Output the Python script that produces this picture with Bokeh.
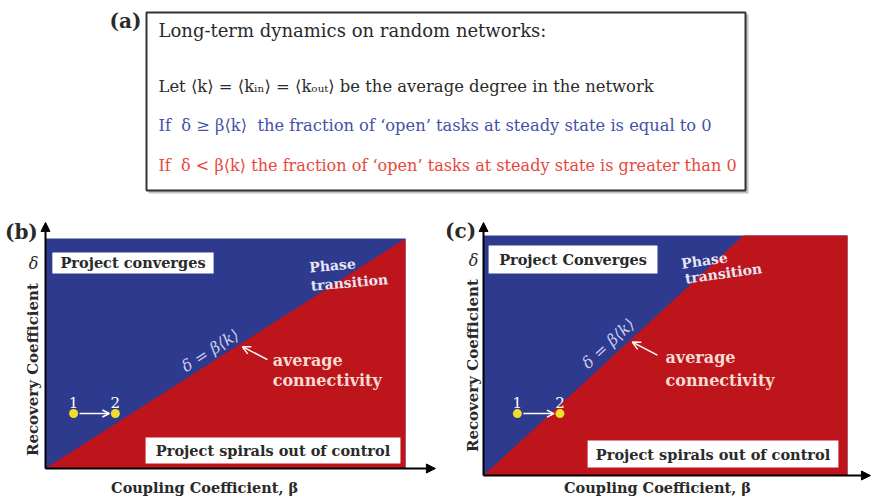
import math
from bokeh.plotting import figure
from bokeh.layouts import column, row
from bokeh.models import Range1d, Arrow, OpenHead, NormalHead
from bokeh.core.properties import value
from bokeh.embed import file_html
from bokeh.resources import INLINE

# ---------------- data ----------------
NB = "\u00a0"
a_label = "(a)"
a_lines = [
    "Long-term dynamics on random networks:",
    "Let ⟨k⟩ = ⟨kᵢₙ⟩ = ⟨kₒᵤₜ⟩ be the average degree in the network",
    f"If {NB}δ ≥ β⟨k⟩ {NB}the fraction of ‘open’ tasks at steady state is equal to 0",
    f"If {NB}δ < β⟨k⟩ the fraction of ‘open’ tasks at steady state is greater than 0",
]
panel_labels = ["(b)", "(c)"]
avg_degree = [1.0, 1.4]            # slope <k> of the transition line delta = beta <k>
beta_point1 = [0.078, 0.093]
beta_point2 = [0.194, 0.210]
delta_points = [0.239, 0.258]
point_names = ["1", "2"]
converge_labels = ["Project converges", "Project Converges"]
spiral_label = "Project spirals out of control"
line_label = "δ = β⟨k⟩"
phase_label = ["Phase", "transition"]
conn_label = ["average", "connectivity"]
x_title = "Coupling Coefficient, β"
y_title = "Recovery Coefficient"
y_symbol = "δ"

# ---------------- styles ----------------
SERIF = "DejaVu Serif"
BLUE_BG = "#2E3A8E"
RED_BG = "#BE151D"
YELLOW = "#F0DF2A"
DARK = "#2A2A2A"
BLUE_TXT = "#4352A8"
RED_TXT = "#E8473C"
LINE_TXT = "#C9CCEB"
CONN_TXT = "#F6DCD2"
PHASE_TXT = "#E6E6F5"

W_ALL, H_TOP = 874, 218
W_P, H_P = 437, 281


def bare(width, height, xr, yr):
    p = figure(width=width, height=height, x_range=xr, y_range=yr,
               output_backend="svg", toolbar_location=None, min_border=0,
               x_axis_type=None, y_axis_type=None)
    p.outline_line_color = None
    p.background_fill_color = "white"
    p.border_fill_color = "white"
    return p


def txt(p, x, y, t, size, color=DARK, style="normal", align="left", angle=0.0):
    p.text(x=[x], y=[y], text=[t], text_font=value(SERIF), text_font_size=size,
           text_font_style=style, text_color=color, text_align=align,
           text_baseline="middle", angle=angle)


# ---------------- (a) ----------------
top = bare(W_ALL, H_TOP, Range1d(0, W_ALL), Range1d(H_TOP, 0))
top.quad(left=[148], right=[748], top=[14], bottom=[193], fill_color="#9a9a9a",
         fill_alpha=0.6, line_color=None)
top.quad(left=[146], right=[745], top=[12], bottom=[190], fill_color="white",
         line_color="#333333", line_width=2)
txt(top, 125, 20, a_label, "20px", style="bold", align="center")
a_colors = [DARK, DARK, BLUE_TXT, RED_TXT]
a_y = [30, 86, 125, 165]
a_sizes = ["18px", "16.4px", "16.3px", "16.1px"]
for t, c, yy, s in zip(a_lines, a_colors, a_y, a_sizes):
    txt(top, 158, yy, t, s, color=c)

# ---------------- (b), (c) ----------------
AREA_X = [(45, 405), (46, 410)]
AREA_Y = [(20, 250), (17, 257)]
ANN = [
    dict(lab=(-0.067, 1.03), dsym=(-0.033, 0.89), ytit=(-0.036, 0.43), xtit=(0.442, -0.083),
         conv=(0.019, 0.467, 0.848, 0.939), spir=(0.278, 0.986, 0.022, 0.135),
         phase=[(0.797, 0.883), (0.844, 0.809)], phase_ang=5,
         ltxt=(0.458, 0.513), arr_beta=0.547, conn=(0.631, 0.47, 0.383),
         xtip=1.083, ytip=1.07, lab_delta=0.287),
    dict(lab=(-0.063, 1.017), dsym=(-0.027, 0.896), ytit=(-0.030, 0.458), xtit=(0.478, -0.05),
         conv=(0.014, 0.478, 0.842, 0.958), spir=(0.286, 0.975, 0.033, 0.146),
         phase=[(0.607, 0.896), (0.659, 0.842)], phase_ang=8,
         ltxt=(0.343, 0.55), arr_beta=0.409, conn=(0.5, 0.492, 0.396),
         xtip=1.063, ytip=1.054, lab_delta=0.304),
]


def make_panel(i):
    L, R = AREA_X[i]
    T, B = AREA_Y[i]
    sx, sy = R - L, B - T
    a = ANN[i]
    p = bare(W_P, H_P, Range1d(-L / sx, (W_P - L) / sx), Range1d((B - H_P) / sy, B / sy))
    k = avg_degree[i]

    # phase regions
    p.quad(left=[0], right=[1], bottom=[0], top=[1], fill_color=BLUE_BG, line_color=None)
    if k > 1:
        xs, ys = [0, 1, 1, 1 / k], [0, 0, 1, 1]
    else:
        xs, ys = [0, 1, 1], [0, 0, k]
    p.patch(xs, ys, fill_color=RED_BG, line_color=None)

    # axes with arrow heads
    p.add_layout(Arrow(x_start=0, y_start=0, x_end=a["xtip"], y_end=0, line_width=2,
                       line_color="black",
                       end=NormalHead(size=9, fill_color="black", line_color="black")))
    p.add_layout(Arrow(x_start=0, y_start=0, x_end=0, y_end=a["ytip"], line_width=2,
                       line_color="black",
                       end=NormalHead(size=9, fill_color="black", line_color="black")))

    # labels
    txt(p, *a["lab"], panel_labels[i], "20px", style="bold", align="center")
    txt(p, *a["dsym"], y_symbol, "16px", style="italic", align="center")
    txt(p, *a["ytit"], y_title, "15px", style="bold", align="center", angle=math.pi / 2)
    txt(p, *a["xtit"], x_title, "14.5px", style="bold", align="center")

    # white boxes
    cl, cr, cb, ct = a["conv"]
    p.quad(left=[cl], right=[cr], bottom=[cb], top=[ct], fill_color="white", line_color=None)
    txt(p, (cl + cr) / 2, (cb + ct) / 2, converge_labels[i], "14.5px", style="bold", align="center")
    sl, sr, sb, st = a["spir"]
    p.quad(left=[sl], right=[sr], bottom=[sb], top=[st], fill_color="white", line_color=None)
    txt(p, (sl + sr) / 2, (sb + st) / 2, spiral_label, "14.5px", style="bold", align="center")

    # transition line label
    ang = math.atan(k * sy / sx)
    txt(p, *a["ltxt"], line_label, "16px", color=LINE_TXT, style="italic", align="center", angle=ang)
    pa = math.radians(a["phase_ang"])
    for (px_, py_), t in zip(a["phase"], phase_label):
        txt(p, px_, py_, t, "14px", color=PHASE_TXT, style="bold", align="center", angle=pa)

    # average connectivity annotation
    be = a["arr_beta"]
    de = k * be - 4 / sy
    p.add_layout(Arrow(x_start=be + 25 / sx, y_start=de - 13 / sy, x_end=be, y_end=de,
                       line_color="white", line_width=1.5,
                       end=OpenHead(size=8, line_color="white", line_width=1.5)))
    cx, cy1, cy2 = a["conn"]
    txt(p, cx, cy1, conn_label[0], "16px", color=CONN_TXT, style="bold")
    txt(p, cx, cy2, conn_label[1], "16px", color=CONN_TXT, style="bold")

    # points 1 -> 2
    b1, b2, d = beta_point1[i], beta_point2[i], delta_points[i]
    p.add_layout(Arrow(x_start=b1 + 6 / sx, y_start=d, x_end=b2 - 6 / sx, y_end=d,
                       line_color="white", line_width=1.5,
                       end=OpenHead(size=7, line_color="white", line_width=1.5)))
    p.scatter([b1, b2], [d, d], size=9, fill_color=YELLOW, line_color=None)
    for b, n in zip([b1, b2], point_names):
        txt(p, b, a["lab_delta"], n, "15px", color="white", align="center")
    return p


pb = make_panel(0)
pc = make_panel(1)
layout = column(top, row(pb, pc, spacing=0), spacing=0)
open("out.html", "w").write(file_html(layout, INLINE))
